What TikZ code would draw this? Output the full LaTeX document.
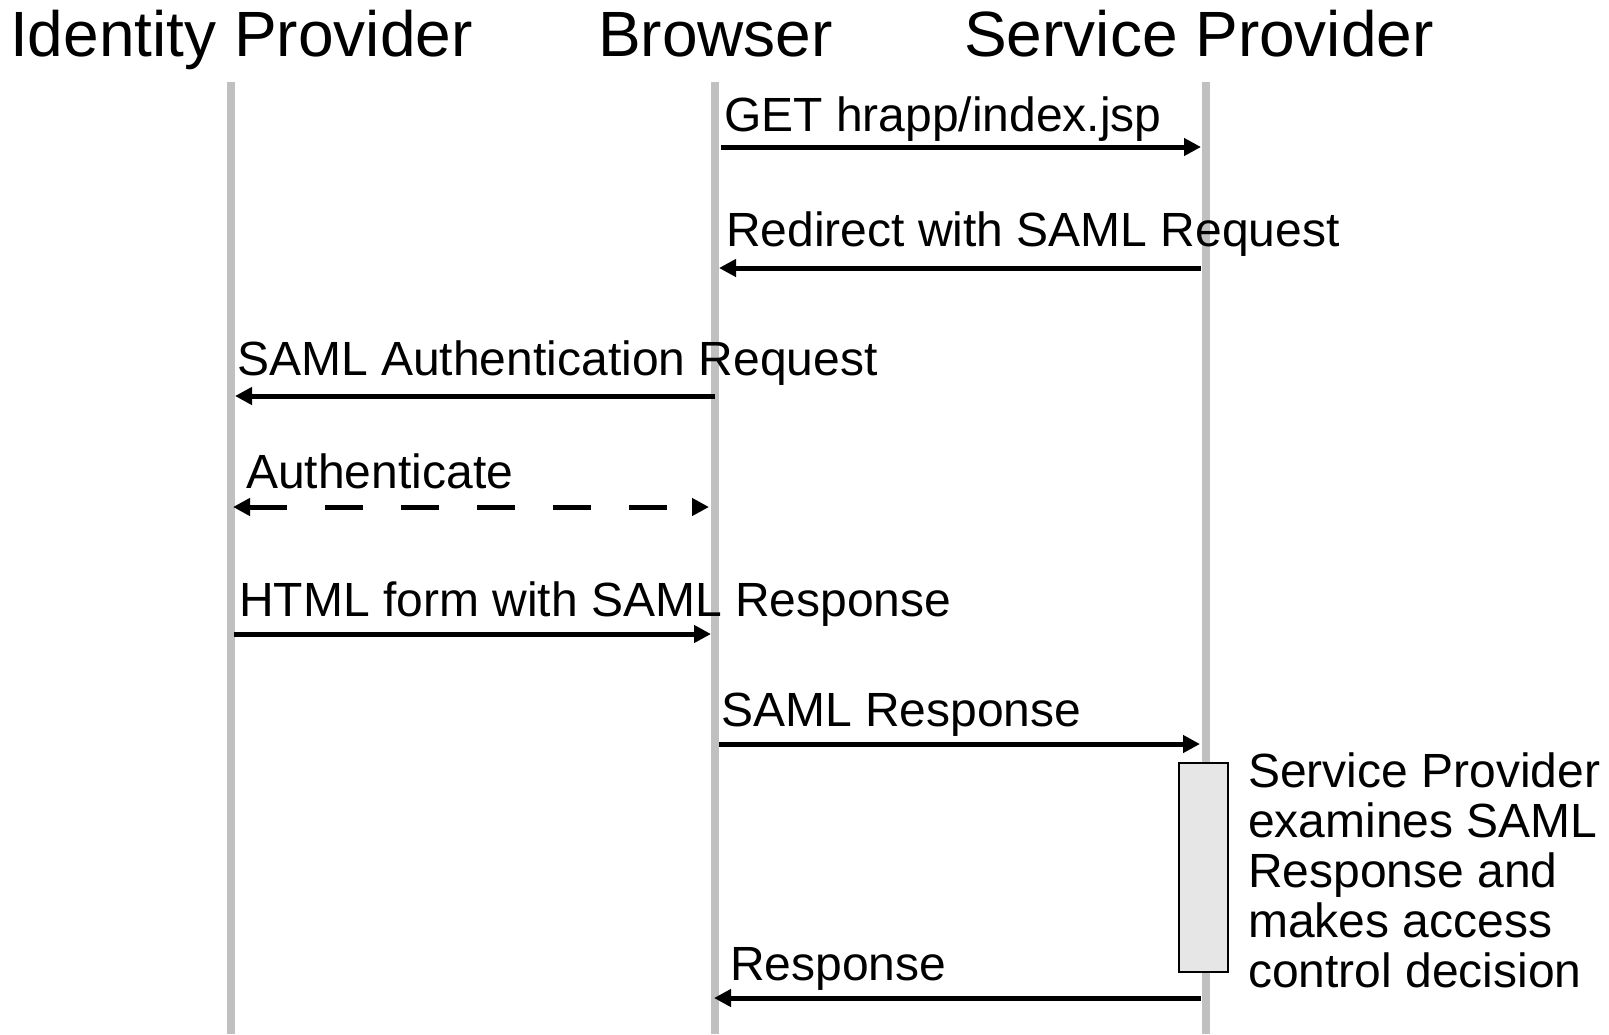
\documentclass[tikz,border=0pt]{standalone}
\usepackage{fontspec}
\setmainfont{Liberation Sans}
\usetikzlibrary{arrows.meta}
\definecolor{lifegray}{HTML}{C0C0C0}
\definecolor{actgray}{HTML}{E6E6E6}
\begin{document}
\begin{tikzpicture}[x=1pt,y=-1pt,
  lifeline/.style={line width=8.5pt,draw=lifegray},
  header/.style={anchor=base west,inner sep=0pt,font=\fontsize{64}{70}\selectfont},
  label/.style={anchor=base west,inner sep=0pt,font=\fontsize{48}{50}\selectfont},
  msg/.style={line width=5pt,-{Triangle[length=17pt,width=17pt]}},
  both/.style={line width=5pt,{Triangle[length=17pt,width=17pt]}-{Triangle[length=17pt,width=17pt]},dash pattern=on 38pt off 38pt},
  actbox/.style={draw=black,fill=actgray,line width=1.5pt}
]
\useasboundingbox (0,0) rectangle (1609,1034);

% lifelines
\coordinate (idpTop) at (231,82);   \coordinate (idpBot) at (231,1034);
\coordinate (brTop)  at (715,82);   \coordinate (brBot)  at (715,1034);
\coordinate (spTop)  at (1206,82);  \coordinate (spBot)  at (1206,1034);
\draw[lifeline] (idpTop) -- (idpBot);
\draw[lifeline] (brTop) -- (brBot);
\draw[lifeline] (spTop) -- (spBot);

% participant headers
\node[header] (hIdp) at (10,56)  {Identity Provider};
\node[header] (hBr)  at (598,56) {Browser};
\node[header] (hSp)  at (964,56) {Service Provider};

% message end points
\coordinate (m1a) at (721,147);  \coordinate (m1b) at (1201,147);
\coordinate (m2a) at (1201,268); \coordinate (m2b) at (719,268);
\coordinate (m3a) at (715,396);  \coordinate (m3b) at (235,396);
\coordinate (m4a) at (233,507);  \coordinate (m4b) at (709,507);
\coordinate (m5a) at (234,634);  \coordinate (m5b) at (711,634);
\coordinate (m6a) at (719,744);  \coordinate (m6b) at (1200,744);
\coordinate (m7a) at (1201,998); \coordinate (m7b) at (714,998);

% messages
\draw[msg] (m1a) -- (m1b);
\node[label] (l1) at (724,131) {GET hrapp/index.jsp};
\draw[msg] (m2a) -- (m2b);
\node[label] (l2) at (726,246) {Redirect with SAML Request};
\draw[msg] (m3a) -- (m3b);
\node[label] (l3) at (237,375) {SAML Authentication Request};
\draw[both] (m4a) -- (m4b);
\node[label] (l4) at (246,488) {Authenticate};
\draw[msg] (m5a) -- (m5b);
\node[label] (l5) at (239,616) {HTML form with SAML Response};
\draw[msg] (m6a) -- (m6b);
\node[label] (l6) at (721,726) {SAML Response};

% activation on the service provider
\draw[actbox] (1179,763) rectangle (1228,972);
\node[label,align=left] (note) at (1248,987) {Service Provider\\examines SAML\\Response and\\makes access\\control decision};

\draw[msg] (m7a) -- (m7b);
\node[label] (l7) at (730,980) {Response};
\end{tikzpicture}
\end{document}
